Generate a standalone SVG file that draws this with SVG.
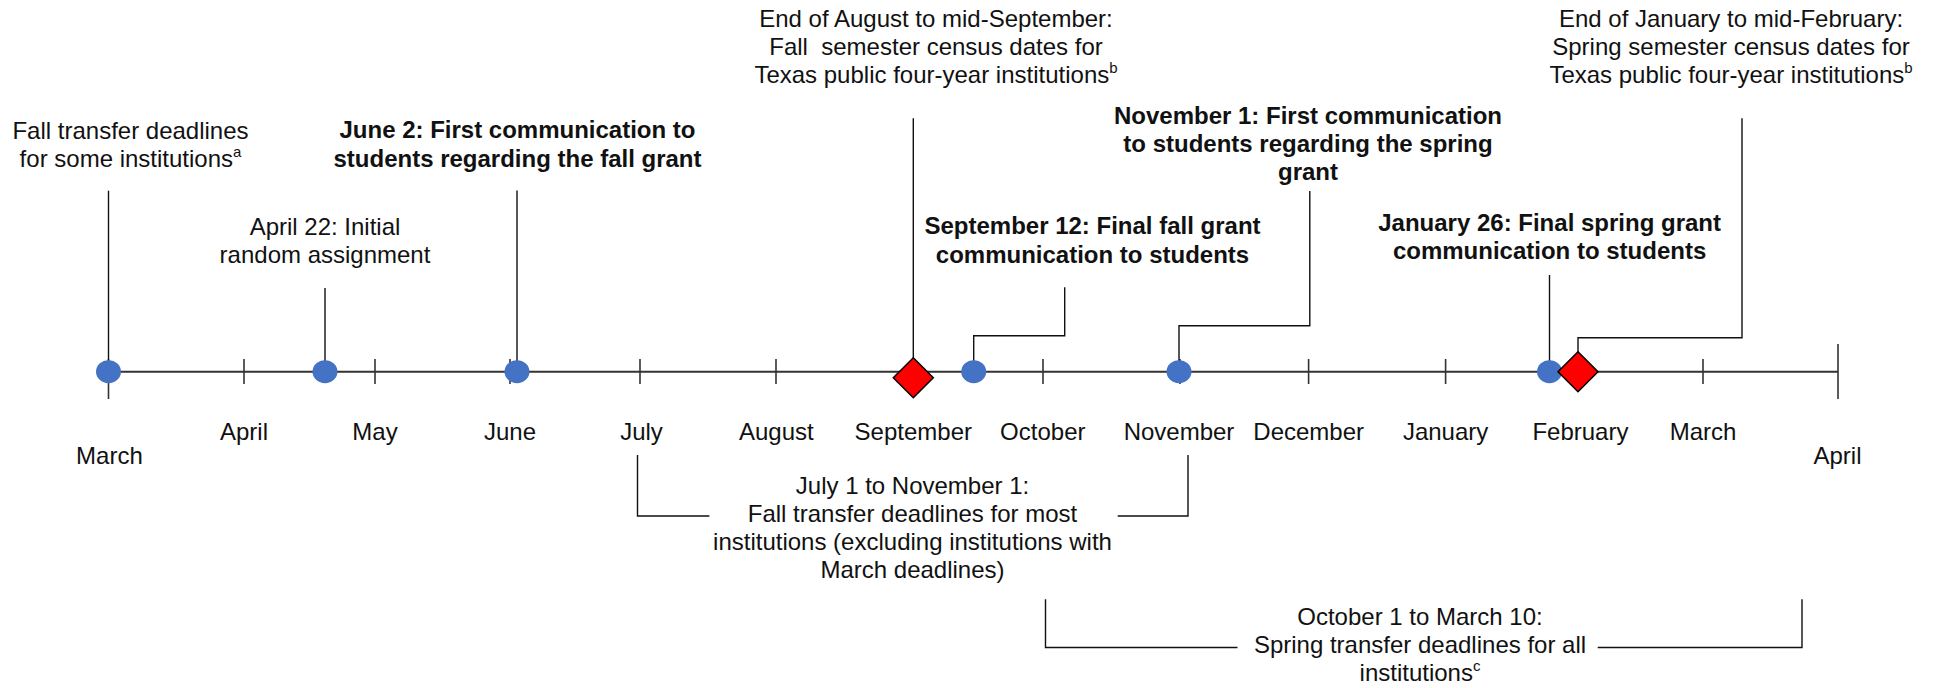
<svg xmlns="http://www.w3.org/2000/svg" width="1934" height="688" viewBox="0 0 1934 688">
<style>
.t{font-family:"Liberation Sans",Arial,sans-serif;font-size:24px;fill:#111;text-anchor:middle}
.b{font-weight:bold}
.sup{font-size:15px}
.ln{stroke:#111;stroke-width:1.4;fill:none}
.ax{stroke:#333;stroke-width:2;fill:none}
.tk{stroke:#333;stroke-width:1.6}
.dot{fill:#4472C4}
.dia{fill:#FF0000;stroke:#000;stroke-width:1.5}
</style>
<rect width="1934" height="688" fill="#fff"/>
<g id="axis">
<line class="ax" x1="108.5" y1="371.7" x2="1838" y2="371.7"/>
<g class="tk">
<line x1="108.5" y1="359" x2="108.5" y2="399"/>
<line x1="244" y1="359" x2="244" y2="384"/>
<line x1="375" y1="359" x2="375" y2="384"/>
<line x1="510" y1="359" x2="510" y2="384"/>
<line x1="640" y1="359" x2="640" y2="384"/>
<line x1="776" y1="359" x2="776" y2="384"/>
<line x1="913" y1="359" x2="913" y2="384"/>
<line x1="1043" y1="359" x2="1043" y2="384"/>
<line x1="1180" y1="359" x2="1180" y2="384"/>
<line x1="1308.6" y1="359" x2="1308.6" y2="384"/>
<line x1="1445.6" y1="359" x2="1445.6" y2="384"/>
<line x1="1580" y1="359" x2="1580" y2="384"/>
<line x1="1703" y1="359" x2="1703" y2="384"/>
<line x1="1838" y1="344" x2="1838" y2="399"/>
</g>
</g>
<g id="months" class="t">
<text x="109.4" y="464">March</text>
<text x="244" y="440">April</text>
<text x="375" y="440">May</text>
<text x="510" y="440">June</text>
<text x="641.5" y="440">July</text>
<text x="776.3" y="440">August</text>
<text x="913.3" y="440">September</text>
<text x="1042.8" y="440">October</text>
<text x="1179" y="440">November</text>
<text x="1308.7" y="440">December</text>
<text x="1445.6" y="440">January</text>
<text x="1580.4" y="440">February</text>
<text x="1703" y="440">March</text>
<text x="1837.5" y="464">April</text>
</g>
<g id="connectors">
<path class="ln" d="M108.5 190.7V372"/>
<path class="ln" d="M325 288V372"/>
<path class="ln" d="M517 190.5V372"/>
<path class="ln" d="M913.3 118.3V358"/>
<path class="ln" d="M973.7 372V335.7H1064.7V287.3"/>
<path class="ln" d="M1179 372V325.7H1309.8V191"/>
<path class="ln" d="M1549.5 275V372"/>
<path class="ln" d="M1578 352V337.7H1742V118.3"/>
<path class="ln" d="M637.5 455V516H709.4M1117.7 516H1188V455"/>
<path class="ln" d="M1045.5 599.3V647.5H1237.5M1597.7 647.5H1802V599.3"/>
</g>
<g id="n-march" class="t">
<ellipse class="dot" cx="108.5" cy="371.7" rx="12.5" ry="11.5"/>
<text x="130.5" y="139">Fall transfer deadlines</text>
<text x="130.5" y="167">for some institutions<tspan class="sup" dy="-10">a</tspan></text>
</g>
<g id="n-april22" class="t">
<ellipse class="dot" cx="325" cy="371.7" rx="12.5" ry="11.5"/>
<text x="325" y="235">April 22: Initial</text>
<text x="325" y="263">random assignment</text>
</g>
<g id="n-june2" class="t b">
<ellipse class="dot" cx="517" cy="371.7" rx="12.5" ry="11.5"/>
<text x="517.5" y="138">June 2: First communication to</text>
<text x="517.5" y="166.5">students regarding the fall grant</text>
</g>
<g id="n-fallcensus" class="t">
<polygon class="dia" points="913.3,357.7 933.3,377.7 913.3,397.7 893.3,377.7"/>
<text x="936" y="26.5">End of August to mid-September:</text>
<text x="936" y="54.5" style="white-space:pre">Fall  semester census dates for</text>
<text x="936" y="82.5">Texas public four-year institutions<tspan class="sup" dy="-10">b</tspan></text>
</g>
<g id="n-sept12" class="t b">
<ellipse class="dot" cx="973.7" cy="371.7" rx="12.5" ry="11.5"/>
<text x="1092.5" y="234">September 12: Final fall grant</text>
<text x="1092.5" y="262.5">communication to students</text>
</g>
<g id="n-nov1" class="t b">
<ellipse class="dot" cx="1179" cy="371.7" rx="12.5" ry="11.5"/>
<text x="1308" y="124">November 1: First communication</text>
<text x="1308" y="152">to students regarding the spring</text>
<text x="1308" y="180">grant</text>
</g>
<g id="n-jan26" class="t b">
<ellipse class="dot" cx="1549.5" cy="371.7" rx="12.5" ry="11.5"/>
<text x="1549.6" y="230.5">January 26: Final spring grant</text>
<text x="1549.6" y="258.5">communication to students</text>
</g>
<g id="n-springcensus" class="t">
<polygon class="dia" points="1578,351.7 1598,371.7 1578,391.7 1558,371.7"/>
<text x="1731" y="26.5">End of January to mid-February:</text>
<text x="1731" y="54.5">Spring semester census dates for</text>
<text x="1731" y="82.5">Texas public four-year institutions<tspan class="sup" dy="-10">b</tspan></text>
</g>
<g id="n-falltransfer" class="t">
<text x="912.5" y="494">July 1 to November 1:</text>
<text x="912.5" y="522">Fall transfer deadlines for most</text>
<text x="912.5" y="550">institutions (excluding institutions with</text>
<text x="912.5" y="578">March deadlines)</text>
</g>
<g id="n-springtransfer" class="t">
<text x="1420" y="625">October 1 to March 10:</text>
<text x="1420" y="653">Spring transfer deadlines for all</text>
<text x="1420" y="681">institutions<tspan class="sup" dy="-10">c</tspan></text>
</g>
</svg>
